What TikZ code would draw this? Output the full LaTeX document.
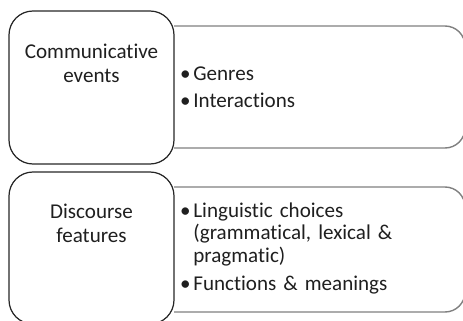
\documentclass[tikz,border=0pt]{standalone}
\usepackage{fontspec}
\setmainfont{Carlito}[Ligatures=NoCommon]
\newcommand\bul{\llap{\textbullet\hspace{1.5pt}}}
\begin{document}
\begin{tikzpicture}[x=0.02cm,y=-0.02cm,
  catbox/.style={draw=black!85,line width=0.7pt,rounded corners=0.48cm},
  listbox/.style={draw=black!50,line width=0.8pt,rounded corners=0.4cm},
  cattext/.style={anchor=base,align=center,inner sep=0pt,text=black!88,
    font=\fontsize{12}{13.6}\selectfont},
  itemtext/.style={anchor=base west,align=left,inner sep=0pt,text width=5.4cm,
    text=black!88,font=\fontsize{12}{13}\selectfont}]
\useasboundingbox (0,0) rectangle (463,321);

% right hand boxes, only the outer corners rounded
\draw[listbox] (174,26) -- (465,26) -- (465,148) -- (174,148);
\draw[listbox] (174,187) -- (465,187) -- (465,312) -- (174,312);

% left hand boxes
\draw[catbox] (9,11) rectangle (174,164);
\draw[catbox] (9,172) rectangle (174,324);

\node[cattext] (events) at (91.5,82) {Communicative\\events};
\node[cattext] (features) at (91.5,242) {Discourse\\features};

\node[itemtext] (genres) at (193,80) {\bul Genres};
\node[itemtext] (interactions) at (193,107) {\bul Interactions};
\node[itemtext] (choices) at (193,217) {\bul Linguistic choices\\(grammatical, lexical \&\\pragmatic)};
\node[itemtext] (functions) at (193,290) {\bul Functions \& meanings};

\end{tikzpicture}
\end{document}
